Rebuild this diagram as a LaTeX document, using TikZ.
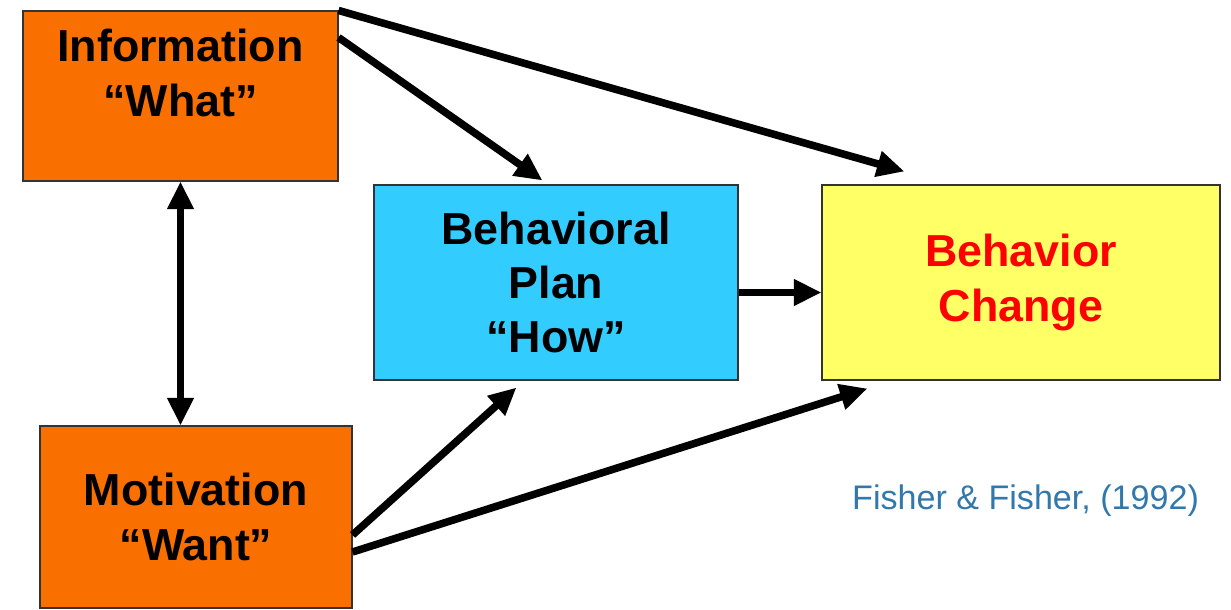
\documentclass[tikz,border=0pt]{standalone}
\usepackage{fontspec}
\setmainfont{Liberation Sans}
\usetikzlibrary{calc,arrows.meta}
\definecolor{myorange}{RGB}{250,112,0}
\definecolor{myblue}{RGB}{51,204,255}
\definecolor{myyellow}{RGB}{255,255,102}
\definecolor{mycite}{RGB}{49,120,172}
\tikzset{
    box/.style={draw=black!80, line width=0.6pt, rectangle},
    boxtext/.style={align=center, font=\bfseries\fontsize{25.5}{31}\selectfont},
    arr/.style={line width=4.3pt, -{Triangle[length=0.55cm, width=0.5cm]}},
}

\begin{document}
\begin{tikzpicture}
    \useasboundingbox (0, 0) rectangle (24.62, 12.18);
    \begin{scope}
        % Boxes
        \node[box, fill=myorange, minimum width=6.30cm, minimum height=3.40cm] (info) at (3.61, 10.26) {};
        \node[boxtext] (infotext) at ($(info.center) + (0, 0.46)$) {Information\\“What”};
        \node[box, fill=myorange, boxtext, minimum width=6.24cm, minimum height=3.64cm] (moti) at (3.92, 1.84) {Motivation\\“Want”};
        \node[box, fill=myblue, boxtext, minimum width=7.28cm, minimum height=3.90cm] (plan) at (11.12, 6.53) {Behavioral\\Plan\\“How”};
        \node[box, fill=myyellow, boxtext, text=red, minimum width=7.96cm, minimum height=3.90cm] (change) at (20.42, 6.53) {Behavior\\Change};
        % Source
        \node[anchor=west, text=mycite, font=\fontsize{19.4}{23}\selectfont] (cite) at (16.92, 2.16) {Fisher \& Fisher, (1992)};
        % Arrows
        \draw[arr, {Triangle[length=0.55cm, width=0.5cm]}-{Triangle[length=0.55cm, width=0.5cm]}]
            (info.south) -- (info.south |- moti.north);
        \draw[arr] (info.north east) -- ($(change.north west) + (1.66, 0.26)$);
        \draw[arr] ($(info.north east) + (0, -0.54)$) -- ($(plan.north west) + (3.38, 0.08)$);
        \draw[arr] ($(moti.east) + (0, -0.36)$) -- ($(plan.south west) + (2.86, -0.14)$);
        \draw[arr] ($(moti.east) + (0, -0.70)$) -- ($(change.south west) + (0.92, -0.16)$);
        \draw[arr] ($(plan.east) + (0, -0.2)$) -- ($(change.west) + (0, -0.2)$);
    \end{scope}
\end{tikzpicture}
\end{document}
